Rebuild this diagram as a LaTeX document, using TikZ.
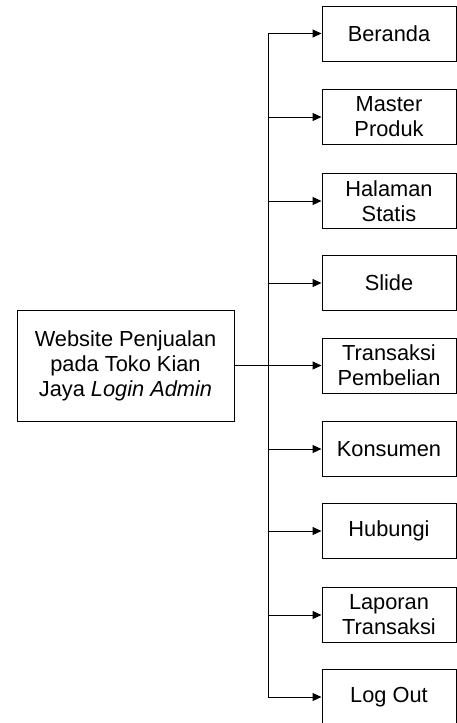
\documentclass[tikz,border=0pt]{standalone}
\usepackage{fontspec}
\setmainfont{Liberation Sans}
\usetikzlibrary{arrows.meta}

\begin{document}
\begin{tikzpicture}[x=1pt, y=-1pt,
    menu/.style ={rectangle, draw, line width=1pt, inner sep=0pt, align=center,
      minimum width=134pt, minimum height=55pt,
      font=\fontsize{21.8}{25}\selectfont},
    utama/.style ={menu, minimum width=217pt, minimum height=111pt},
    panah/.style ={line width=1pt, -{Triangle[length=9pt,width=8pt]}}]
   \useasboundingbox (0,0) rectangle (457,723);
   \node[utama] (web) at (125.5,365.5) {Website Penjualan\\pada Toko Kian\\Jaya \textit{Login Admin}};
   \node[menu] (beranda)   at (389,33.5)  {Beranda};
   \node[menu] (master)    at (389,117)   {Master\\Produk};
   \node[menu] (halaman)   at (389,201)   {Halaman\\Statis};
   \node[menu] (slide)     at (389,283)   {Slide};
   \node[menu] (transaksi) at (389,365.5) {Transaksi\\Pembelian};
   \node[menu] (konsumen)  at (389,449)   {Konsumen};
   \node[menu] (hubungi)   at (389,531)   {Hubungi};
   \node[menu] (laporan)   at (389,615)   {Laporan\\Transaksi};
   \node[menu] (logout)    at (389,697)   {Log Out};
   \coordinate (cabang) at (268,365.5);
   \draw[line width=1pt] (web) to (cabang);
   \draw[panah] (cabang) |- (beranda);
   \draw[panah] (cabang) |- (master);
   \draw[panah] (cabang) |- (halaman);
   \draw[panah] (cabang) |- (slide);
   \draw[panah] (cabang) |- (transaksi);
   \draw[panah] (cabang) |- (konsumen);
   \draw[panah] (cabang) |- (hubungi);
   \draw[panah] (cabang) |- (laporan);
   \draw[panah] (cabang) |- (logout);
 \end{tikzpicture}
\end{document}
